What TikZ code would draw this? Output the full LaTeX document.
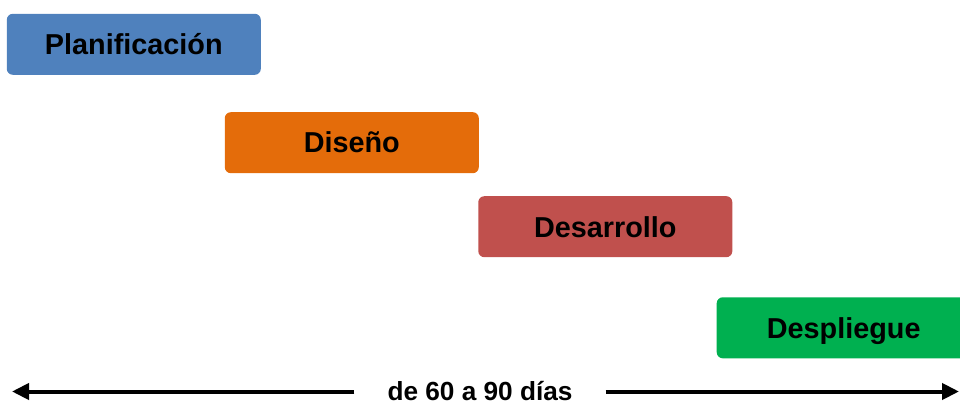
\documentclass[tikz,border=0pt]{standalone}
\usepackage{fontspec}
\setmainfont{Liberation Sans}
\usetikzlibrary{arrows.meta}

\definecolor{azul}{HTML}{4F81BD}
\definecolor{naranja}{HTML}{E46C0A}
\definecolor{rojo}{HTML}{C0504D}
\definecolor{verde}{HTML}{00B050}

\tikzset{
  fase/.style={rounded corners=6pt, minimum width=254pt, minimum height=61pt,
    inner sep=0pt, text height=20.6pt, text depth=0pt,
    font=\fontsize{28.8}{34}\selectfont\bfseries},
  flecha/.style={line width=4pt, -{Triangle[length=17pt,width=16pt]}}
}

\begin{document}
\begin{tikzpicture}[x=1pt,y=-1pt]
  \useasboundingbox (0,0) rectangle (960,403);
  \node[fase, fill=azul] (plan) at (133.8,44.3) {Planificación};
  \node[fase, fill=naranja] (dis) at (351.8,142.7) {Diseño};
  \node[fase, fill=rojo] (desa) at (605.3,226.7) {Desarrollo};
  \node[fase, fill=verde] (desp) at (843.7,327.8) {Despliegue};
  \node[inner xsep=33pt, inner ysep=0pt, text height=18.6pt, text depth=0pt,
    font=\fontsize{26.2}{30}\selectfont\bfseries] (dur) at (480,391) {de 60 a 90 días};
  \coordinate (izq) at (12,391.5);
  \coordinate (der) at (959,391.5);
  \draw[flecha] (dur.west |- izq) -- (izq);
  \draw[flecha] (dur.east |- der) -- (der);
\end{tikzpicture}
\end{document}
